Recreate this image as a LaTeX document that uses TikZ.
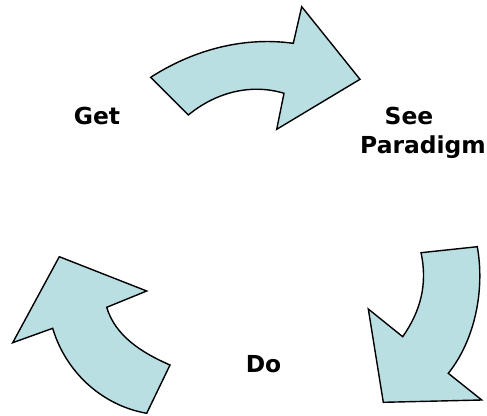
\documentclass[tikz,border=0pt]{standalone}
\usepackage{fontspec}
\setmainfont{DejaVu Sans}
\begin{document}
\begin{tikzpicture}[x=1pt,y=-1pt,
  arrowshape/.style={draw=black,line width=1.4pt,line join=miter,fill=cyclefill},
  lbl/.style={font=\fontsize{23.4}{28}\selectfont\bfseries,inner sep=0pt,anchor=base}]
\definecolor{cyclefill}{RGB}{186,223,226}
\useasboundingbox (0,0) rectangle (487,415);
% top arrow
\draw[arrowshape] (150.7,77.3) .. controls (190,52) and (240,36) .. (293.3,43.3)
  -- (301.7,6.7) -- (360,79.3) -- (276.7,129.3) -- (284,93.3)
  .. controls (250,83) and (215,93) .. (188.3,115) -- cycle;
% right arrow
\draw[arrowshape] (421,252.7) -- (477.3,246.7)
  .. controls (485,290) and (475,340) .. (448.3,373.3)
  -- (481.7,400) -- (383.3,402.3) -- (368.3,309) -- (402.7,336.7)
  .. controls (420,312) and (428,285) .. (421,252.7) -- cycle;
% left arrow
\draw[arrowshape] (146.7,413.3) -- (170,365)
  .. controls (140,352) and (115,335) .. (106.7,307.3)
  -- (146.7,291) -- (59.3,256.7) -- (12.7,342.7) -- (52.7,328.3)
  .. controls (65,370) and (100,405) .. (146.7,413.3) -- cycle;
\node[lbl] (get) at (97,124.3) {Get};
\node[lbl] (see) at (409,124.3) {See};
\node[lbl] (paradigm) at (423,153.5) {Paradigm};
\node[lbl] (do) at (263.5,372.7) {Do};
\end{tikzpicture}
\end{document}
